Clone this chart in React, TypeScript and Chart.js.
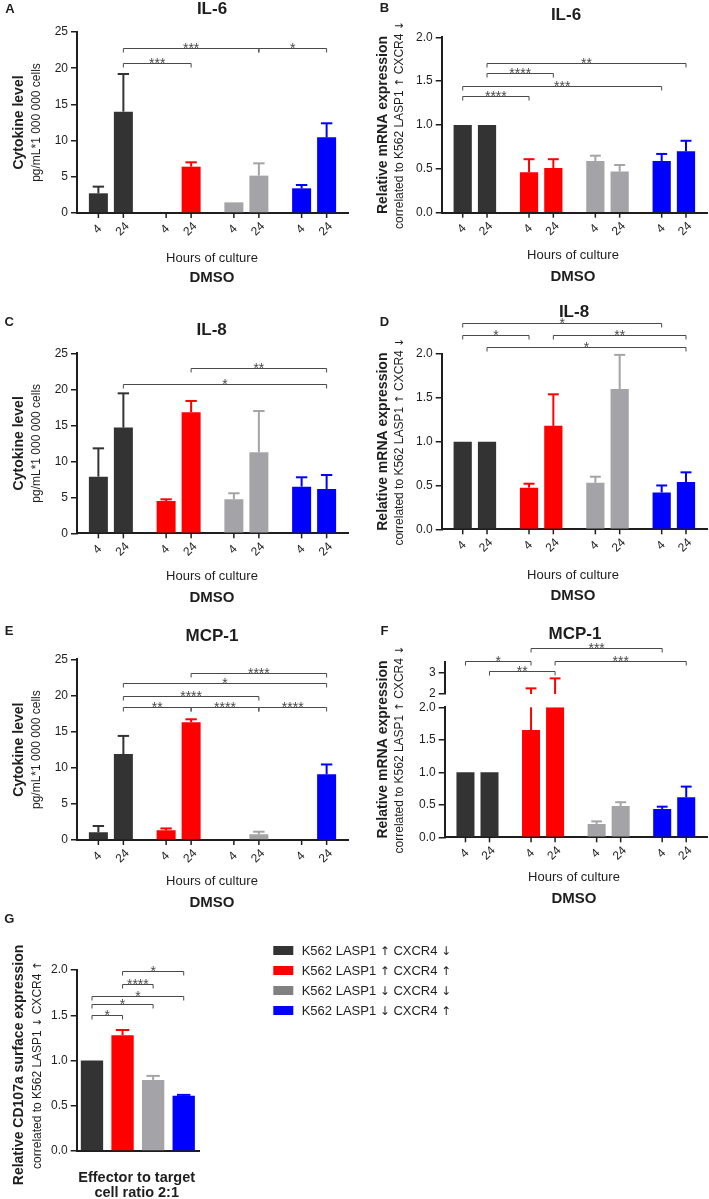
import React, { useEffect, useRef } from 'react';
import { Chart, registerables } from 'chart.js';

Chart.register(...registerables);

const FONT = '"Liberation Sans", Arial, Helvetica, sans-serif';
const ARROW_FONT = '"DejaVu Sans", "Liberation Sans", sans-serif';
const INK = '#1e1e1e';
const BRACKET_INK = '#4a4a4a';

// ---------- shared categories / labels ----------
const cellLines = ['K562 LASP1 ↑ CXCR4 ↓', 'K562 LASP1 ↑ CXCR4 ↑', 'K562 LASP1 ↓ CXCR4 ↓', 'K562 LASP1 ↓ CXCR4 ↑'];
const barColors = ['#333333', '#ff0000', '#a4a4a8', '#0000ff'];
const legendColors = ['#333333', '#ff0000', '#808080', '#0000ff'];
const hoursOfCulture = ['4', '24'];
const cytoYTitle = ['Cytokine level', 'pg/mL*1 000 000 cells'];
const mrnaYTitle = ['Relative mRNA expression', 'correlated to K562 LASP1 ↑ CXCR4 ↓'];
const cd107YTitle = ['Relative CD107a surface expression', 'correlated to K562 LASP1 ↓ CXCR4 ↑'];
const cultureXTitle = ['Hours of culture', 'DMSO'];
const ratioXTitle = ['Effector to target', 'cell ratio 2:1'];

// ---------- tick labels ----------
const cytokineTicks = [0, 5, 10, 15, 20, 25];
const mrnaTicks = [0, 0.5, 1, 1.5, 2];
const mcpMrnaUpperTicks = [2, 3];

// significance: [fromBar, toBar, level, label]  (bars counted left to right)
// ---------- A: IL-6 cytokine ----------
const il6Cyto4h = [2.72, 0, 1.47, 3.41];
const il6Cyto4hSem = [0.92, 0, 0, 0.46];
const il6Cyto24h = [14.0, 6.4, 5.16, 10.45];
const il6Cyto24hSem = [5.2, 0.6, 1.7, 1.94];
const il6CytoSig = [[1, 3, 20.7, '***'], [1, 5, 22.75, '***'], [5, 7, 22.75, '*']];

// ---------- B: IL-6 mRNA ----------
const il6Mrna4h = [1.0, 0.46, 0.59, 0.59];
const il6Mrna4hSem = [0, 0.15, 0.06, 0.08];
const il6Mrna24h = [1.0, 0.51, 0.47, 0.70];
const il6Mrna24hSem = [0, 0.10, 0.074, 0.12];
const il6MrnaSig = [[1, 7, 1.71, '**'], [1, 3, 1.59, '****'], [0, 6, 1.445, '***'], [0, 2, 1.334, '****']];

// ---------- C: IL-8 cytokine ----------
const il8Cyto4h = [7.87, 4.49, 4.72, 6.48];
const il8Cyto4hSem = [3.93, 0.23, 0.84, 1.3];
const il8Cyto24h = [14.68, 16.8, 11.25, 6.16];
const il8Cyto24hSem = [4.76, 1.58, 5.74, 1.94];
const il8CytoSig = [[3, 7, 22.9, '**'], [1, 7, 20.8, '*']];

// ---------- D: IL-8 mRNA ----------
const il8Mrna4h = [1.0, 0.475, 0.53, 0.42];
const il8Mrna4hSem = [0, 0.045, 0.07, 0.08];
const il8Mrna24h = [1.0, 1.18, 1.60, 0.54];
const il8Mrna24hSem = [0, 0.36, 0.39, 0.11];
const il8MrnaSig = [[0, 6, 2.35, '*'], [0, 2, 2.215, '*'], [3, 7, 2.215, '**'], [1, 7, 2.08, '*']];

// ---------- E: MCP-1 cytokine ----------
const mcpCyto4h = [1.06, 1.34, 0, 0];
const mcpCyto4hSem = [0.88, 0.26, 0, 0];
const mcpCyto24h = [11.9, 16.3, 0.78, 9.1];
const mcpCyto24hSem = [2.5, 0.4, 0.37, 1.35];
const mcpCytoSig = [[3, 7, 23.15, '****'], [1, 7, 21.7, '*'], [1, 5, 19.97, '****'], [1, 3, 18.45, '**'], [3, 5, 18.45, '****'], [5, 7, 18.45, '****']];

// ---------- F: MCP-1 mRNA (broken axis) ----------
const mcpMrna4h = [1.0, 1.65, 0.205, 0.436];
const mcpMrna4hSem = [0, 0.61, 0.04, 0.035];
const mcpMrna24h = [1.0, 2.0, 0.48, 0.615];
const mcpMrna24hSem = [0, 0.72, 0.06, 0.165];
const mcpMrnaSig = [[2, 6, 4.13, '***'], [0, 2, 3.53, '*'], [3, 7, 3.53, '***'], [1, 3, 3.06, '**']];

// ---------- G: CD107a ----------
const cd107a = [1.0, 1.28, 0.785, 0.61];
const cd107aSem = [0, 0.057, 0.045, 0.01];
const cd107aSig = [[1, 3, 1.99, '*'], [1, 2, 1.845, '****'], [0, 3, 1.71, '*'], [0, 2, 1.62, '*'], [0, 1, 1.503, '*']];

// ---------- layout (page pixels) ----------
const GEO: any = {
  A: { box: [0, 0, 354, 300], area: { l: 77, r: 348, t: 32, b: 213 }, letter: [10, 8.8], title: [212, 8.2], yTitleX: [18.3, 35.7], xTitleX: 212, xTitleY: [257, 277], catPct: 0.738, barPct: 0.76 },
  B: { box: [354, 0, 355, 300], area: { l: 441.7, r: 707, t: 37.3, b: 212.7 }, letter: [384.5, 7.5], title: [566, 13.5], yTitleX: [382.3, 398.3], xTitleX: 573, xTitleY: [254, 276], catPct: 0.733, barPct: 0.75 },
  C: { box: [0, 300, 354, 312], area: { l: 77, r: 348, t: 353.3, b: 533.3 }, letter: [9.2, 321], title: [211.7, 328.5], yTitleX: [18.3, 35.7], xTitleX: 212, xTitleY: [575, 597], catPct: 0.738, barPct: 0.76 },
  D: { box: [354, 300, 355, 312], area: { l: 441.7, r: 707, t: 354, b: 529.3 }, letter: [384.5, 321], title: [574, 311], yTitleX: [382.3, 398.3], xTitleX: 573, xTitleY: [574, 595], catPct: 0.733, barPct: 0.75 },
  E: { box: [0, 612, 354, 300], area: { l: 77, r: 348, t: 659.3, b: 840 }, letter: [9.2, 630], title: [212, 634.5], yTitleX: [18.3, 35.7], xTitleX: 212, xTitleY: [880, 901.7], catPct: 0.738, barPct: 0.76 },
  F: { box: [354, 612, 355, 300], area: { l: 444.7, r: 707, t: 661.7, b: 837.3 }, letter: [384.5, 630], title: [575, 632.5], yTitleX: [382.3, 398.3], xTitleX: 574, xTitleY: [876, 897.7], catPct: 0.733, barPct: 0.75 },
  G: {
    box: [0, 905, 480, 294], area: { l: 76.7, r: 199, t: 970, b: 1151 }, letter: [9.2, 918], yTitleX: [17.5, 36.7], yTitleCY: 1065, xTitleX: 136.7, xTitleY: [1177, 1192], catPct: 1, barPct: 0.73,
    legend: { swatchX: 273.3, swatchW: 20, swatchH: 9, textX: 301.7, firstY: 950.7, rowH: 20, size: 13 },
  },
};

const culturePanel = (id: string, title: string, yTitle: string[], ticks: number[], decimals: number, s4: number[], e4: number[], s24: number[], e24: number[], sig: any[], extra: any = {}) => ({
  id, title, yTitle, xTitle: cultureXTitle, xTitleStyle: [[13, false], [15, true]],
  ticks, decimals, sig, tickLabels: true,
  series: [
    { label: hoursOfCulture[0], values: s4, sem: e4 },
    { label: hoursOfCulture[1], values: s24, sem: e24 },
  ],
  geo: GEO[id],
  ...extra,
});

const PANELS: any[] = [
  culturePanel('A', 'IL-6', cytoYTitle, cytokineTicks, 0, il6Cyto4h, il6Cyto4hSem, il6Cyto24h, il6Cyto24hSem, il6CytoSig),
  culturePanel('B', 'IL-6', mrnaYTitle, mrnaTicks, 1, il6Mrna4h, il6Mrna4hSem, il6Mrna24h, il6Mrna24hSem, il6MrnaSig),
  culturePanel('C', 'IL-8', cytoYTitle, cytokineTicks, 0, il8Cyto4h, il8Cyto4hSem, il8Cyto24h, il8Cyto24hSem, il8CytoSig),
  culturePanel('D', 'IL-8', mrnaYTitle, mrnaTicks, 1, il8Mrna4h, il8Mrna4hSem, il8Mrna24h, il8Mrna24hSem, il8MrnaSig),
  culturePanel('E', 'MCP-1', cytoYTitle, cytokineTicks, 0, mcpCyto4h, mcpCyto4hSem, mcpCyto24h, mcpCyto24hSem, mcpCytoSig),
  culturePanel('F', 'MCP-1', mrnaYTitle, mrnaTicks, 1, mcpMrna4h, mcpMrna4hSem, mcpMrna24h, mcpMrna24hSem, mcpMrnaSig, {
    broken: { at: 2, upperMax: 3.49, upperTicks: mcpMrnaUpperTicks, lowerPx: 130, gapPx: 13.3, upperPx: 32.3 },
  }),
  {
    id: 'G', title: '', yTitle: cd107YTitle, xTitle: ratioXTitle, xTitleStyle: [[14.5, true], [14.5, true]],
    ticks: mrnaTicks, decimals: 1, sig: cd107aSig, tickLabels: false,
    series: [{ label: '', values: cd107a, sem: cd107aSem }],
    geo: GEO.G,
  },
];

function barCenters(chart: any): number[] {
  const xs: number[] = [];
  chart.data.datasets.forEach((_: any, di: number) => {
    chart.getDatasetMeta(di).data.forEach((el: any) => xs.push(el.x));
  });
  return xs.sort((a, b) => a - b);
}

// split text into runs so that arrows use a font that has plain black arrows
function runs(s: string): { t: string; arrow: boolean }[] {
  const out: { t: string; arrow: boolean }[] = [];
  for (const ch of Array.from(s)) {
    const arrow = ch === '↑' || ch === '↓';
    const last = out[out.length - 1];
    if (last && last.arrow === arrow) last.t += ch;
    else out.push({ t: ch, arrow });
  }
  return out;
}

// draws text whose capital letters are centred vertically on y; align 'center' or 'left'
function text(ctx: any, s: string, x: number, y: number, size: number, bold: boolean, rotate = 0, align = 'center') {
  ctx.save();
  ctx.fillStyle = INK;
  ctx.textAlign = 'left';
  ctx.textBaseline = 'alphabetic';
  ctx.translate(x, y);
  if (rotate) ctx.rotate(rotate);
  const parts = runs(s);
  const fontFor = (arrow: boolean) => `${bold ? 'bold ' : ''}${arrow ? size * 0.92 : size}px ${arrow ? ARROW_FONT : FONT}`;
  let total = 0;
  const widths = parts.map((r) => {
    ctx.font = fontFor(r.arrow);
    const w = ctx.measureText(r.t).width;
    total += w;
    return w;
  });
  let cx = align === 'center' ? -total / 2 : 0;
  parts.forEach((r, k) => {
    ctx.font = fontFor(r.arrow);
    ctx.fillText(r.t, cx, size * 0.36);
    cx += widths[k];
  });
  ctx.restore();
}

function drawErrorBars(chart: any, p: any) {
  const ctx = chart.ctx;
  const yS = chart.scales.y;
  p.series.forEach((s: any, di: number) => {
    const meta = chart.getDatasetMeta(di);
    meta.data.forEach((bar: any, ci: number) => {
      const v = s.values[ci];
      const e = s.sem[ci];
      if (!e) return;
      const top = v + e;
      const half = bar.width * 0.3;
      ctx.save();
      ctx.strokeStyle = barColors[ci];
      ctx.lineWidth = 2;
      const seg = (x1: number, y1: number, x2: number, y2: number) => {
        ctx.beginPath();
        ctx.moveTo(x1, y1);
        ctx.lineTo(x2, y2);
        ctx.stroke();
      };
      if (p.broken && top > p.broken.at) {
        const yU = chart.scales.y2;
        seg(bar.x, yS.getPixelForValue(v), bar.x, yS.getPixelForValue(p.broken.at));
        const p0 = yU.getPixelForValue(p.broken.at);
        const p1 = yU.getPixelForValue(top);
        seg(bar.x, p0, bar.x, p1);
        seg(bar.x - half, p1, bar.x + half, p1);
      } else {
        const p0 = yS.getPixelForValue(v);
        const p1 = yS.getPixelForValue(top);
        seg(bar.x, p0, bar.x, p1);
        seg(bar.x - half, p1, bar.x + half, p1);
      }
      ctx.restore();
    });
  });
}

function drawBrackets(chart: any, p: any) {
  const ctx = chart.ctx;
  const scale = chart.scales[p.broken ? 'y2' : 'y'];
  const xs = barCenters(chart);
  ctx.save();
  ctx.strokeStyle = BRACKET_INK;
  ctx.fillStyle = BRACKET_INK;
  ctx.lineWidth = 1;
  ctx.font = `14px ${FONT}`;
  ctx.textAlign = 'center';
  ctx.textBaseline = 'alphabetic';
  for (const [i, j, v, label] of p.sig) {
    const x1 = xs[i];
    const x2 = xs[j];
    const y = Math.round(scale.getPixelForValue(v)) + 0.5;
    ctx.beginPath();
    ctx.moveTo(x1, y + 4);
    ctx.lineTo(x1, y);
    ctx.lineTo(x2, y);
    ctx.lineTo(x2, y + 4);
    ctx.stroke();
    ctx.fillText(label, (x1 + x2) / 2, y + 4.5);
  }
  ctx.restore();
}

function drawTexts(chart: any, p: any) {
  const ctx = chart.ctx;
  const g = p.geo;
  const ox = g.box[0];
  const oy = g.box[1];
  const area = chart.chartArea;
  text(ctx, p.id, g.letter[0] - ox, g.letter[1] - oy, 13, true);
  if (p.title) text(ctx, p.title, g.title[0] - ox, g.title[1] - oy, 17, true);
  const cy = g.yTitleCY != null ? g.yTitleCY - oy : (area.top + area.bottom) / 2;
  text(ctx, p.yTitle[0], g.yTitleX[0] - ox, cy, 14, true, -Math.PI / 2);
  text(ctx, p.yTitle[1], g.yTitleX[1] - ox, cy, 12, false, -Math.PI / 2);
  p.xTitle.forEach((s: string, k: number) => {
    text(ctx, s, g.xTitleX - ox, g.xTitleY[k] - oy, p.xTitleStyle[k][0], p.xTitleStyle[k][1]);
  });
  if (p.tickLabels) {
    chart.data.datasets.forEach((ds: any, di: number) => {
      chart.getDatasetMeta(di).data.forEach((bar: any) => {
        ctx.save();
        ctx.strokeStyle = INK;
        ctx.lineWidth = 1.5;
        ctx.beginPath();
        ctx.moveTo(bar.x, area.bottom);
        ctx.lineTo(bar.x, area.bottom + 5);
        ctx.stroke();
        ctx.restore();
        text(ctx, ds.label, bar.x - 1.5, area.bottom + 15.5, 12, false, -Math.PI / 4);
      });
    });
  }
  if (g.legend) {
    const L = g.legend;
    chart.data.labels.forEach((name: string, i: number) => {
      const rowY = L.firstY + i * L.rowH - oy;
      ctx.save();
      ctx.fillStyle = legendColors[i];
      ctx.fillRect(L.swatchX - ox, Math.round(rowY - L.swatchH / 2), L.swatchW, L.swatchH);
      ctx.restore();
      text(ctx, name, L.textX - ox, rowY, L.size, false, 0, 'left');
    });
  }
}

function buildConfig(p: any) {
  const g = p.geo;
  const [bx, by, bw, bh] = g.box;
  const yW = g.area.l - bx;
  const padding = { left: 0, top: g.area.t - by, right: bx + bw - g.area.r, bottom: by + bh - g.area.b };

  const yAxis = (min: number, max: number, ticks: number[], decimals: number, extra: any = {}) => ({
    type: 'linear',
    position: 'left',
    min,
    max,
    afterBuildTicks: (s: any) => { s.ticks = ticks.map((value) => ({ value })); },
    afterFit: (s: any) => { s.width = yW; },
    ticks: {
      font: { family: FONT, size: 12 }, color: INK, padding: 3, autoSkip: false,
      callback: (v: any) => Number(v).toFixed(decimals),
    },
    grid: { drawOnChartArea: false, drawTicks: true, tickLength: 6, color: INK, lineWidth: 1.5 },
    border: { display: true, color: INK, width: 2 },
    ...extra,
  });

  const scales: any = {
    x: {
      type: 'category',
      offset: true,
      grid: { display: false },
      ticks: { display: false },
      border: { display: true, color: INK, width: 2 },
      afterFit: (s: any) => { s.height = 0; },
    },
  };
  if (p.broken) {
    const b = p.broken;
    scales.y = yAxis(0, b.at, p.ticks, p.decimals, { stack: 'brk', stackWeight: b.lowerPx, weight: 1 });
    scales.yGap = {
      type: 'linear', position: 'left', stack: 'brk', stackWeight: b.gapPx, weight: 2,
      grid: { display: false }, ticks: { display: false }, border: { display: false },
      afterFit: (s: any) => { s.width = yW; },
    };
    scales.y2 = yAxis(b.at, b.upperMax, b.upperTicks, 0, { stack: 'brk', stackWeight: b.upperPx, weight: 3 });
  } else {
    scales.y = yAxis(0, p.ticks[p.ticks.length - 1], p.ticks, p.decimals);
  }

  const plugin = {
    id: 'figure' + p.id,
    afterDatasetsDraw(chart: any) {
      drawErrorBars(chart, p);
      drawBrackets(chart, p);
    },
    afterDraw(chart: any) {
      drawTexts(chart, p);
    },
  };

  return {
    type: 'bar',
    data: {
      labels: cellLines,
      datasets: p.series.map((s: any) => ({
        label: s.label,
        data: s.values,
        backgroundColor: barColors,
        borderWidth: 0,
        categoryPercentage: g.catPct,
        barPercentage: g.barPct,
        xAxisID: 'x',
        yAxisID: 'y',
      })),
    },
    options: {
      responsive: false,
      animation: false,
      events: [],
      layout: { padding },
      plugins: { legend: { display: false }, tooltip: { enabled: false }, title: { display: false } },
      scales,
    },
    plugins: [plugin],
  };
}

function PanelChart({ p }: { p: any }) {
  const ref = useRef<HTMLCanvasElement | null>(null);
  useEffect(() => {
    if (!ref.current) return;
    const chart = new Chart(ref.current, buildConfig(p) as any);
    return () => chart.destroy();
  }, [p]);
  const [x, y, w, h] = p.geo.box;
  return (
    <canvas
      ref={ref}
      width={w}
      height={h}
      style={{ position: 'absolute', left: x, top: y, width: w, height: h }}
    />
  );
}

export default function App() {
  return (
    <div style={{ position: 'absolute', left: 0, top: 0, width: 709, height: 1199, background: '#ffffff', overflow: 'hidden' }}>
      {PANELS.map((p) => (
        <PanelChart key={p.id} p={p} />
      ))}
    </div>
  );
}
